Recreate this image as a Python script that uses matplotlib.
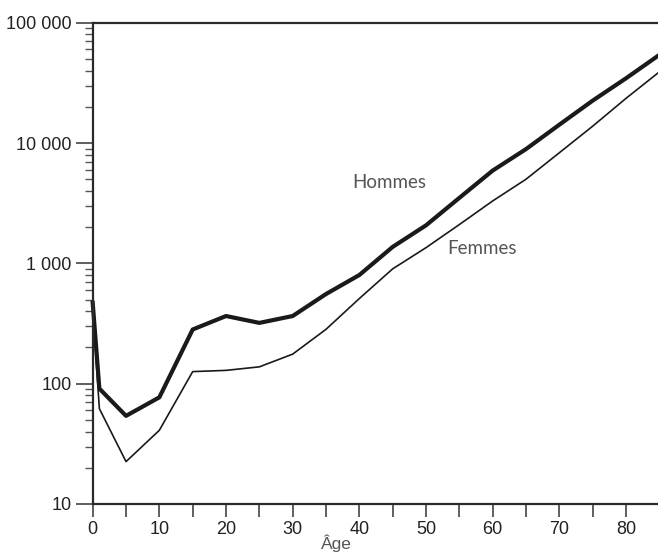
import matplotlib
matplotlib.use("Agg")
import matplotlib.pyplot as plt
from matplotlib.ticker import FixedLocator, LogLocator, NullFormatter

# Taux de mortalité par âge (pour 100 000)
ages = [0, 1, 5, 10, 15, 20, 25, 30, 35, 40, 45, 50, 55, 60, 65, 70, 75, 80, 85]
hommes = [470, 91, 54, 77, 282, 365, 320, 365, 556, 800, 1370, 2070, 3500, 5900, 8900, 14200, 22500, 34500, 54000]
femmes = [420, 62, 22.5, 41, 126, 129, 138, 176, 283, 510, 900, 1350, 2100, 3300, 5000, 8300, 13800, 23500, 39000]

y_ticks = [10, 100, 1000, 10000, 100000]
y_labels = ["10", "100", "1 000", "10 000", "100 000"]
x_ticks = [0, 10, 20, 30, 40, 50, 60, 70, 80]

W, H = 658, 552
fig = plt.figure(figsize=(W / 100, H / 100), dpi=100)
ax = fig.add_axes([92.7 / W, 1 - 504 / H, (W - 92.7) / W + 0.002, (504 - 22.7) / H])

ax.plot(ages, femmes, color="#1a1a1a", lw=1.2, clip_on=False)
ax.plot(ages, hommes, color="#1a1a1a", lw=3.0, clip_on=False)

ax.set_yscale("log")
ax.set_ylim(10, 100000)
ax.set_xlim(0, 85)

ax.yaxis.set_major_locator(FixedLocator(y_ticks))
ax.set_yticklabels(y_labels)
ax.yaxis.set_minor_locator(LogLocator(base=10, subs=range(2, 10)))
ax.yaxis.set_minor_formatter(NullFormatter())

ax.xaxis.set_major_locator(FixedLocator(x_ticks))
ax.xaxis.set_minor_locator(FixedLocator([5, 15, 25, 35, 45, 55, 65, 75, 85]))

for lab in ax.get_xticklabels() + ax.get_yticklabels():
    lab.set_family("Liberation Sans")
    lab.set_fontsize(13)
    lab.set_color("#222222")

ax.tick_params(axis="y", which="major", direction="out", length=12, width=1.1, color="#333333", pad=3)
ax.tick_params(axis="y", which="minor", direction="out", length=6, width=1.0, color="#555555")
ax.tick_params(axis="x", which="both", direction="out", length=9, width=1.1, color="#333333", pad=3)

ax.spines["right"].set_visible(False)
for s in ["left", "bottom", "top"]:
    ax.spines[s].set_linewidth(1.6)
    ax.spines[s].set_color("#2a2a2a")

# étiquettes des courbes, positions en pixels depuis le haut
fig.text(352 / W, 1 - 183 / H, "Hommes", fontsize=13.5, family="Lato",
         fontweight="normal", color="#555555", va="center", ha="left")
fig.text(447 / W, 1 - 248 / H, "Femmes", fontsize=13.5, family="Lato",
         fontweight="normal", color="#555555", va="center", ha="left")

fig.text(336.7 / W, 1 - 543 / H, "Âge", family="Liberation Sans", fontsize=12.5,
         color="#555555", ha="center", va="center")

plt.savefig("out.png", dpi=100)
